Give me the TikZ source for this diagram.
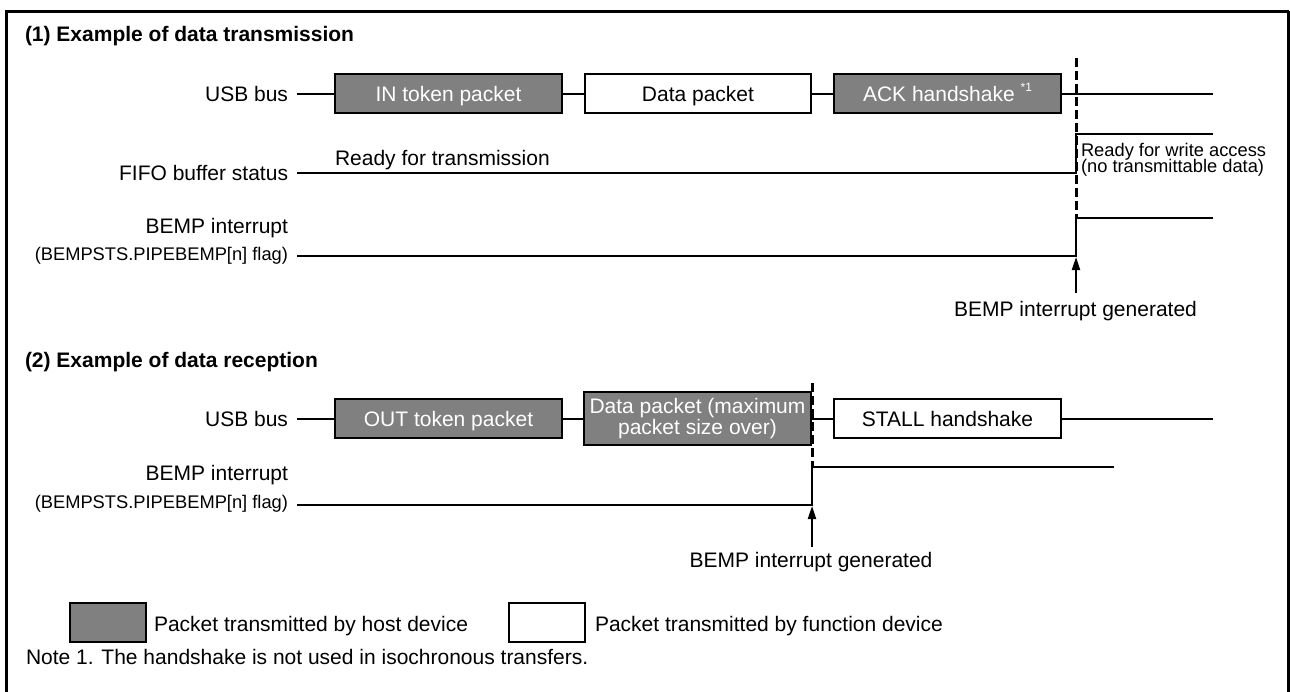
\documentclass[tikz,border=0pt]{standalone}
\usepackage{fontspec}
\setmainfont{Liberation Sans}
\usetikzlibrary{arrows.meta}
\definecolor{pktgray}{RGB}{128,128,128}
\begin{document}
\begin{tikzpicture}[x=1pt,y=-1pt,
  every node/.style={inner sep=0pt, outer sep=0pt, font=\fontsize{21}{25}\selectfont},
  lbl/.style={anchor=base east},
  txt/.style={anchor=base west},
  small/.style={font=\fontsize{18.3}{22}\selectfont},
  ttl/.style={anchor=base west, font=\fontsize{21}{25}\selectfont\bfseries},
  pkt/.style={draw, line width=2pt, minimum width=227pt, minimum height=39pt, text height=15.5pt, text depth=0.5pt},
  host/.style={pkt, fill=pktgray, text=white},
  func/.style={pkt, fill=white},
  sig/.style={line width=2pt},
  dashline/.style={line width=3pt, dash pattern=on 9pt off 4pt},
  arr/.style={line width=2pt, -{Triangle[length=13pt,width=8pt]}}
]
\useasboundingbox (0,0) rectangle (1290,691);
% frame
\draw[line width=3pt, line join=miter] (6.5,700) -- (6.5,11) -- (1288.5,11);
\draw[line width=2.5pt] (1288.5,11) -- (1288.5,700);

% ---------- (1) transmission ----------
\node[ttl] (t1) at (25,41) {(1) Example of data transmission};
\node[lbl] (usb1) at (288,101) {USB bus};
\node[lbl] (fifo1) at (288,180) {FIFO buffer status};
\node[lbl] (bemp1) at (288,233) {BEMP interrupt};
\node[lbl,small] (flag1) at (288,260) {(BEMPSTS.PIPEBEMP[n] flag)};

\node[host] (in1) at (448.5,93.5) {IN token packet};
\node[func, minimum width=226pt] (dp1) at (698,93.5) {Data packet};
\node[host] (ack1) at (947.5,93.5) {ACK handshake \raisebox{10pt}{\fontsize{12}{12}\selectfont *1}};

\coordinate (u1s) at (297,93.5);
\coordinate (u1e) at (1213,93.5);
\draw[sig] (u1s) -- (in1);
\draw[sig] (in1) -- (dp1);
\draw[sig] (dp1) -- (ack1);
\draw[sig] (ack1) -- (u1e);

\node[txt] (rft) at (335,165) {Ready for transmission};
\coordinate (f1s) at (297,173);
\coordinate (f1t) at (1076,173);
\coordinate (f1u) at (1076,134);
\coordinate (f1e) at (1213,134);
\draw[sig] (f1s) -- (f1t) -- (f1u) -- (f1e);
\node[txt,small] (rfw) at (1081,156) {Ready for write access};
\node[txt,small] (ntd) at (1081,172) {(no transmittable data)};

\coordinate (b1s) at (297,256);
\coordinate (b1t) at (1076,256);
\coordinate (b1u) at (1076,218);
\coordinate (b1e) at (1213,218);
\draw[sig] (b1s) -- (b1t) -- (b1u) -- (b1e);

\coordinate (d1a) at (1076,58);
\draw[dashline] (d1a) -- (b1u);

\node[anchor=base] (gen1) at (1075.5,316) {BEMP interrupt generated};
\coordinate (a1s) at (1076,293);
\coordinate (a1e) at (1076,257);
\draw[arr] (a1s) -- (a1e);

% ---------- (2) reception ----------
\node[ttl] (t2) at (25,367) {(2) Example of data reception};
\node[lbl] (usb2) at (288,426) {USB bus};
\node[lbl] (bemp2) at (288,480) {BEMP interrupt};
\node[lbl,small] (flag2) at (288,508) {(BEMPSTS.PIPEBEMP[n] flag)};

\node[host] (out2) at (448.5,418.5) {OUT token packet};
\node[host, minimum height=53pt, text height=, text depth=, align=center, font=\fontsize{21}{21}\selectfont] (dp2) at (697.5,418.5) {Data packet (maximum\\packet size over)};
\node[func] (st2) at (947.5,418.5) {STALL handshake};

\coordinate (u2s) at (297,418.5);
\coordinate (u2e) at (1213,418.5);
\draw[sig] (u2s) -- (out2);
\draw[sig] (out2) -- (dp2);
\draw[sig] (dp2) -- (st2);
\draw[sig] (st2) -- (u2e);

\coordinate (b2s) at (297,505);
\coordinate (b2t) at (812,505);
\coordinate (b2u) at (812,467);
\coordinate (b2e) at (1114,467);
\draw[sig] (b2s) -- (b2t) -- (b2u) -- (b2e);

\coordinate (d2a) at (812,383);
\draw[dashline] (d2a) -- (b2u);

\node[anchor=base] (gen2) at (811,567) {BEMP interrupt generated};
\coordinate (a2s) at (812,547);
\coordinate (a2e) at (812,506);
\draw[arr] (a2s) -- (a2e);

% ---------- legend ----------
\node[host, minimum width=76pt] (lg1) at (108,622.5) {};
\node[txt] (lt1) at (154,631) {Packet transmitted by host device};
\node[func, minimum width=76pt] (lg2) at (547,622.5) {};
\node[txt] (lt2) at (595,631) {Packet transmitted by function device};

\node[txt] (note) at (26,664) {Note 1. The handshake is not used in isochronous transfers.};
\end{tikzpicture}
\end{document}
